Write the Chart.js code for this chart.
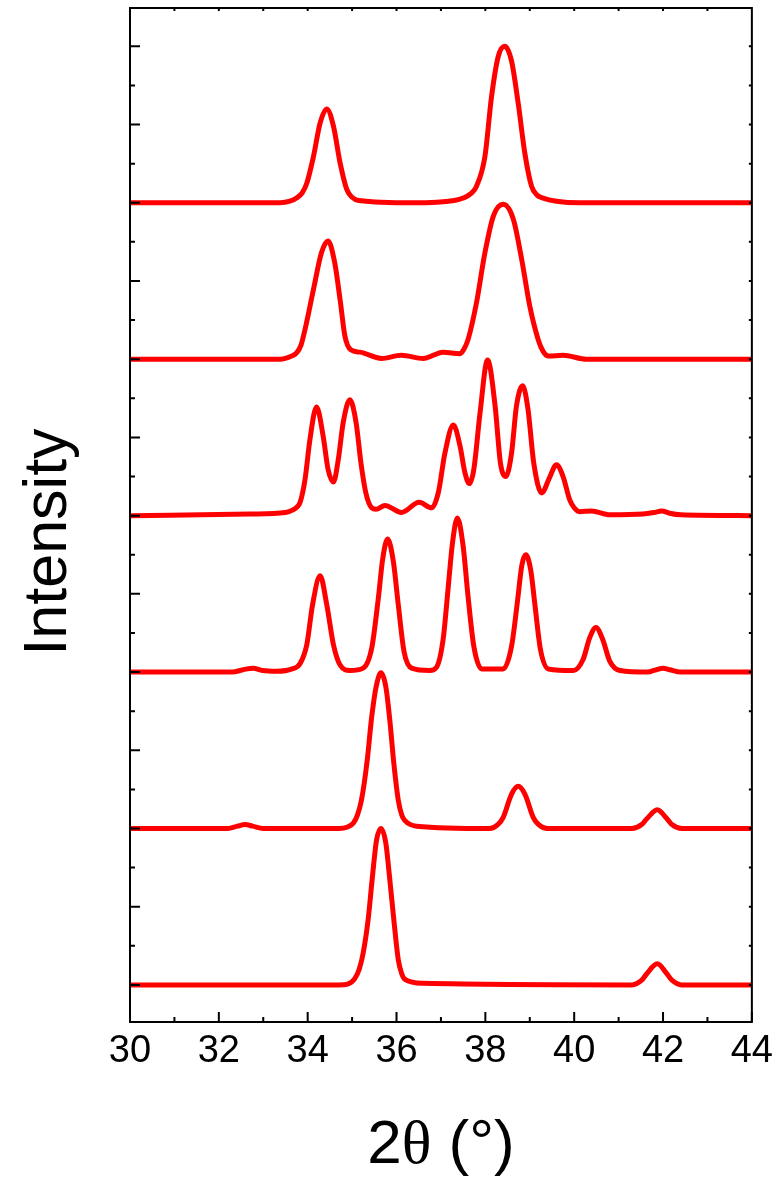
<!DOCTYPE html>
<html>
<head>
<meta charset="utf-8">
<script src="https://cdn.jsdelivr.net/npm/chart.js@4.4.1/dist/chart.umd.min.js"></script>
<style>
  html, body { margin: 0; padding: 0; background: #fff; }
  #wrap { width: 780px; height: 1177px; position: relative; }
</style>
</head>
<body>
<div id="wrap"><canvas id="xrd"></canvas></div>
<script>
// 2θ / relative intensity pairs for each pattern, top to bottom
const patternA = [
  [30, 0], [33.38, 0], [33.6, 0.02], [33.75, 0.06], [33.88, 0.13], [33.98, 0.25], [34.13, 0.59],
  [34.28, 1.02], [34.43, 1.2], [34.58, 0.98], [34.73, 0.51], [34.88, 0.17], [35.0, 0.07],
  [35.15, 0.03], [36.38, 0], [37.3, 0.03], [37.5, 0.06], [37.68, 0.12], [37.8, 0.21],
  [37.99, 0.59], [38.14, 1.36], [38.29, 1.87], [38.44, 2.0], [38.59, 1.81], [38.74, 1.27],
  [38.89, 0.63], [39.04, 0.21], [39.16, 0.1], [39.3, 0.06], [39.6, 0.02], [40.13, 0], [44, 0]
];
const patternB = [
  [30, 0], [33.38, 0], [33.64, 0.04], [33.75, 0.08], [33.85, 0.18], [33.94, 0.38], [34.13, 0.89],
  [34.31, 1.36], [34.46, 1.51], [34.61, 1.23], [34.73, 0.76], [34.84, 0.29], [34.97, 0.12],
  [35.18, 0.09], [35.66, 0.01], [36.11, 0.05], [36.6, 0.01], [37.05, 0.09], [37.43, 0.07],
  [37.52, 0.13], [37.61, 0.25], [37.8, 0.72], [37.99, 1.36], [38.18, 1.83], [38.4, 1.98],
  [38.63, 1.79], [38.82, 1.27], [39.0, 0.68], [39.19, 0.25], [39.3, 0.1], [39.42, 0.04],
  [39.75, 0.05], [40.28, 0], [44, 0]
];
const patternC = [
  [30, 0], [32.7, 0.02], [33.5, 0.04], [33.66, 0.07], [33.76, 0.11], [33.83, 0.17], [33.94, 0.46],
  [34.05, 0.97], [34.2, 1.39], [34.35, 1.01], [34.46, 0.59], [34.58, 0.43], [34.69, 0.72],
  [34.8, 1.19], [34.95, 1.48], [35.09, 1.19], [35.2, 0.67], [35.31, 0.29], [35.44, 0.1],
  [35.54, 0.08], [35.74, 0.13], [36.11, 0.04], [36.51, 0.17], [36.79, 0.1], [36.94, 0.29],
  [37.09, 0.8], [37.28, 1.16], [37.43, 0.89], [37.54, 0.55], [37.64, 0.41], [37.74, 0.59],
  [37.88, 1.31], [38.05, 1.99], [38.22, 1.4], [38.34, 0.67], [38.46, 0.5], [38.59, 0.8],
  [38.7, 1.4], [38.84, 1.66], [38.96, 1.36], [39.09, 0.67], [39.27, 0.29], [39.44, 0.48],
  [39.6, 0.65], [39.75, 0.5], [39.9, 0.2], [40.0, 0.1], [40.12, 0.05], [40.39, 0.06],
  [40.8, 0.01], [41.55, 0.02], [41.8, 0.04], [41.97, 0.06], [42.15, 0.03], [42.4, 0.01], [44, 0]
];
const patternD = [
  [30, 0], [32.3, 0], [32.55, 0.03], [32.77, 0.05], [32.98, 0.02], [33.3, 0.01], [33.65, 0.04],
  [33.83, 0.11], [33.98, 0.35], [34.11, 0.86], [34.28, 1.23], [34.43, 0.86], [34.58, 0.35],
  [34.73, 0.09], [34.95, 0.02], [35.25, 0.05], [35.44, 0.3], [35.59, 0.94], [35.69, 1.45],
  [35.8, 1.7], [35.93, 1.41], [36.04, 0.86], [36.17, 0.26], [36.34, 0.05], [36.75, 0.02],
  [36.9, 0.06], [37.05, 0.42], [37.16, 1.06], [37.26, 1.65], [37.37, 1.97], [37.5, 1.61],
  [37.61, 0.97], [37.74, 0.33], [37.92, 0.04], [38.4, 0.04], [38.59, 0.33], [38.72, 0.89],
  [38.82, 1.36], [38.91, 1.5], [39.02, 1.31], [39.12, 0.84], [39.24, 0.29], [39.42, 0.04],
  [39.98, 0.02], [40.2, 0.16], [40.35, 0.44], [40.49, 0.57], [40.64, 0.42], [40.8, 0.14],
  [41.03, 0.02], [41.65, 0], [41.85, 0.03], [42.0, 0.05], [42.15, 0.03], [42.4, 0], [44, 0]
];
const patternE = [
  [30, 0], [32.2, 0], [32.42, 0.03], [32.59, 0.05], [32.76, 0.03], [33.0, 0], [34.7, 0],
  [34.9, 0.02], [35.03, 0.07], [35.12, 0.17], [35.21, 0.36], [35.34, 0.87], [35.44, 1.42],
  [35.54, 1.81], [35.65, 1.99], [35.76, 1.81], [35.85, 1.38], [35.94, 0.83], [36.04, 0.36],
  [36.12, 0.17], [36.19, 0.1], [36.45, 0.03], [38.1, 0], [38.28, 0.05], [38.4, 0.14],
  [38.59, 0.44], [38.74, 0.54], [38.89, 0.44], [39.08, 0.14], [39.2, 0.05], [39.4, 0],
  [41.3, 0], [41.52, 0.05], [41.63, 0.12], [41.87, 0.24], [42.08, 0.13], [42.2, 0.05],
  [42.42, 0], [44, 0]
];
const patternF = [
  [30, 0], [34.7, 0], [34.9, 0.01], [35.06, 0.08], [35.16, 0.2], [35.25, 0.41], [35.36, 0.83],
  [35.45, 1.34], [35.55, 1.85], [35.65, 2.0], [35.76, 1.81], [35.85, 1.34], [35.94, 0.83],
  [36.04, 0.32], [36.12, 0.14], [36.19, 0.07], [36.6, 0.02], [41.3, 0], [41.52, 0.06],
  [41.63, 0.14], [41.87, 0.27], [42.09, 0.14], [42.2, 0.06], [42.42, 0], [44, 0]
];

const patterns = [patternA, patternB, patternC, patternD, patternE, patternF];
const offsets = [10, 8, 6, 4, 2, 0];

const xMajorTicks = [30, 32, 34, 36, 38, 40, 42, 44];
const xMinorTicks = [31, 33, 35, 37, 39, 41, 43];
const xTopTicks = [31, 32, 33, 34, 35, 36, 37, 38, 39, 40, 41, 42, 43];
const yMajorTicks = [0, 1, 2, 3, 4, 5, 6, 7, 8, 9, 10, 11, 12];
const yMinorTicks = [0.5, 1.5, 2.5, 3.5, 4.5, 5.5, 6.5, 7.5, 8.5, 9.5, 10.5, 11.5];

const datasets = patterns.map((pts, i) => ({
  data: pts.map(([x, y]) => ({ x: x, y: y + offsets[i] })),
  borderColor: "#ff0000",
  borderWidth: 5,
  pointRadius: 0,
  fill: false,
  cubicInterpolationMode: "monotone",
  clip: false,
}));

// frame, inward tick marks and axis titles
const frameAndTitles = {
  id: "frameAndTitles",
  afterDatasetsDraw(chart) {
    const { ctx, chartArea: a, scales: { x, y } } = chart;
    ctx.save();
    ctx.strokeStyle = "#000";
    ctx.lineWidth = 2;
    ctx.beginPath();
    xMajorTicks.forEach((v) => {
      const px = x.getPixelForValue(v);
      ctx.moveTo(px, a.bottom);
      ctx.lineTo(px, a.bottom - 10);
    });
    xMinorTicks.forEach((v) => {
      const px = x.getPixelForValue(v);
      ctx.moveTo(px, a.bottom);
      ctx.lineTo(px, a.bottom - 5);
    });
    xTopTicks.forEach((v) => {
      const px = x.getPixelForValue(v);
      ctx.moveTo(px, a.top);
      ctx.lineTo(px, a.top + 3);
    });
    yMajorTicks.forEach((v) => {
      const py = y.getPixelForValue(v);
      ctx.moveTo(a.left, py);
      ctx.lineTo(a.left + 10, py);
      ctx.moveTo(a.right, py);
      ctx.lineTo(a.right - 3, py);
    });
    yMinorTicks.forEach((v) => {
      const py = y.getPixelForValue(v);
      ctx.moveTo(a.left, py);
      ctx.lineTo(a.left + 5, py);
      ctx.moveTo(a.right, py);
      ctx.lineTo(a.right - 3, py);
    });
    ctx.stroke();
    ctx.strokeRect(a.left, a.top, a.right - a.left, a.bottom - a.top);
    ctx.restore();
  },
  afterDraw(chart) {
    const { ctx, chartArea: a } = chart;
    ctx.save();
    ctx.fillStyle = "#000";

    // y title
    ctx.font = '61px "Liberation Sans", Arial, sans-serif';
    ctx.textAlign = "center";
    ctx.textBaseline = "alphabetic";
    ctx.translate(66, 542);
    ctx.rotate(-Math.PI / 2);
    ctx.fillText("Intensity", 0, 0);
    ctx.setTransform(1, 0, 0, 1, 0, 0);

    // x title: sans digits, serif theta
    const sans = '62px "Liberation Sans", Arial, sans-serif';
    const serif = '62px "Liberation Serif", "Times New Roman", serif';
    const parts = [["2", sans], ["θ", serif], [" (°)", sans]];
    let total = 0;
    parts.forEach(([t, f]) => { ctx.font = f; total += ctx.measureText(t).width; });
    let cx = (a.left + a.right) / 2 - total / 2;
    ctx.textAlign = "left";
    parts.forEach(([t, f]) => {
      ctx.font = f;
      ctx.fillText(t, cx, 1163);
      cx += ctx.measureText(t).width;
    });
    ctx.restore();
  },
};

new Chart(document.getElementById("xrd"), {
  type: "line",
  data: { datasets: datasets },
  options: {
    responsive: true,
    maintainAspectRatio: false,
    animation: false,
    layout: { padding: { top: 8, right: 28, left: 0, bottom: 0 } },
    plugins: { legend: { display: false }, tooltip: { enabled: false } },
    scales: {
      x: {
        type: "linear",
        min: 30,
        max: 44,
        grid: { display: false, drawTicks: false },
        border: { display: false },
        afterBuildTicks: (s) => { s.ticks = xMajorTicks.map((v) => ({ value: v })); },
        afterFit: (s) => { s.height = 155; },
        ticks: {
          padding: 7,
          color: "#000",
          font: { family: '"Liberation Sans", Arial, sans-serif', size: 38 },
          maxRotation: 0,
          autoSkip: false,
        },
      },
      y: {
        type: "linear",
        min: -0.474,
        max: 12.49,
        grid: { display: false, drawTicks: false },
        border: { display: false },
        ticks: { display: false },
        afterFit: (s) => { s.width = 130; },
      },
    },
  },
  plugins: [frameAndTitles],
});
</script>
</body>
</html>
